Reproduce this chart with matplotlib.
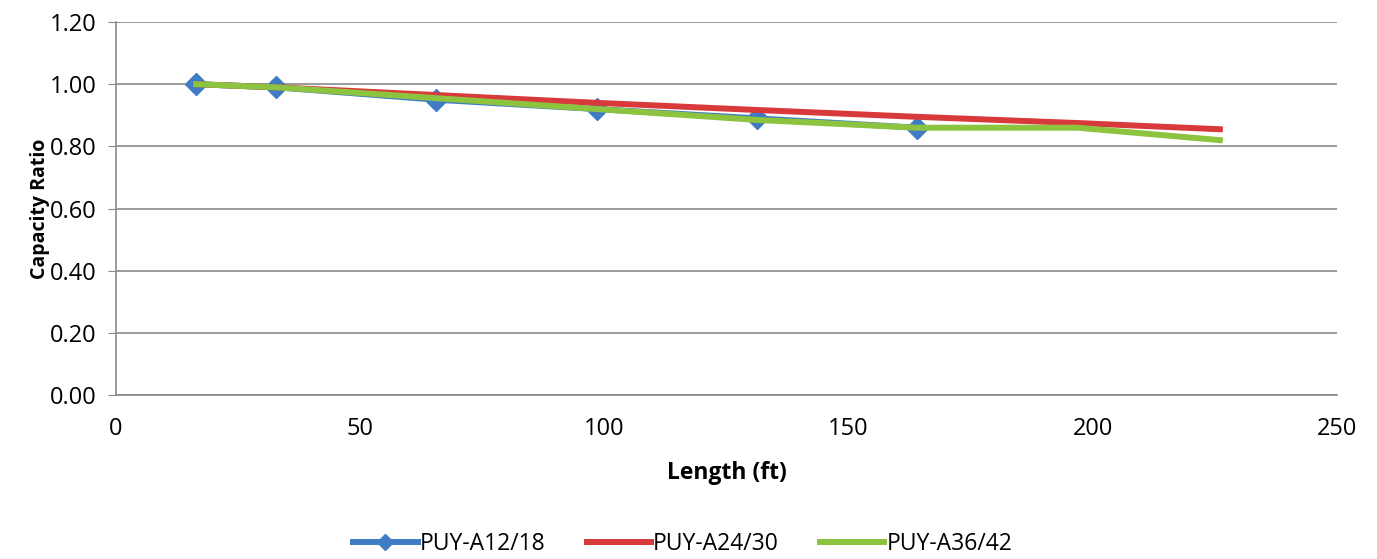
import matplotlib
matplotlib.use('Agg')
import matplotlib.pyplot as plt

# data
length = [16.4, 32.8, 65.6, 98.4, 131.2, 164.0, 196.8, 226.0]
puy_12_18 = [1.00, 0.99, 0.95, 0.92, 0.89, 0.86]
puy_24_30 = [1.00, 0.99, 0.965, 0.94, 0.917, 0.895, 0.875, 0.855]
puy_36_42 = [1.00, 0.99, 0.955, 0.92, 0.885, 0.86, 0.86, 0.82]

plt.rcParams['font.family'] = ['Open Sans', 'DejaVu Sans']

fig = plt.figure(figsize=(13.77, 5.59), dpi=100)
ax = fig.add_axes([0.0842, 0.2934, 0.8868, 0.6672])

ax.plot(length[:len(puy_12_18)], puy_12_18, color='#3F7CC4', lw=4.3,
        marker='D', markersize=11.5, label='PUY-A12/18', zorder=3)
ax.plot(length, puy_24_30, color='#D8393B', lw=4.3, label='PUY-A24/30', zorder=4)
ax.plot(length, puy_36_42, color='#8CC43F', lw=4.3, label='PUY-A36/42', zorder=5)

ax.set_xlim(0, 250)
ax.set_ylim(0, 1.2)
ax.set_yticks([0, 0.2, 0.4, 0.6, 0.8, 1.0, 1.2])
ax.set_yticklabels(['%.2f' % v for v in ax.get_yticks()])
ax.set_xticks([0, 50, 100, 150, 200, 250])
ax.grid(axis='y', color='#8A8A8A', lw=1.2)
ax.set_axisbelow(True)
for s in ['top', 'right']:
    ax.spines[s].set_visible(False)
for s in ['left', 'bottom']:
    ax.spines[s].set_color('#8A8A8A')
    ax.spines[s].set_linewidth(1.2)
ax.tick_params(axis='y', length=6, color='#8A8A8A', labelsize=17, pad=8)
ax.tick_params(axis='x', length=0, labelsize=17, pad=16)

ax.set_xlabel('Length (ft)', fontsize=16.5, fontweight='bold', labelpad=14)
ax.set_ylabel('Capacity Ratio', fontsize=14, fontweight='bold', labelpad=0)

fig.legend(loc='center', bbox_to_anchor=(0.496, 0.027), ncol=3, frameon=False,
           fontsize=16.5, handlelength=2.8, handletextpad=0.1, columnspacing=1.8,
           markerscale=0.75)

fig.savefig('out.png', dpi=100)
